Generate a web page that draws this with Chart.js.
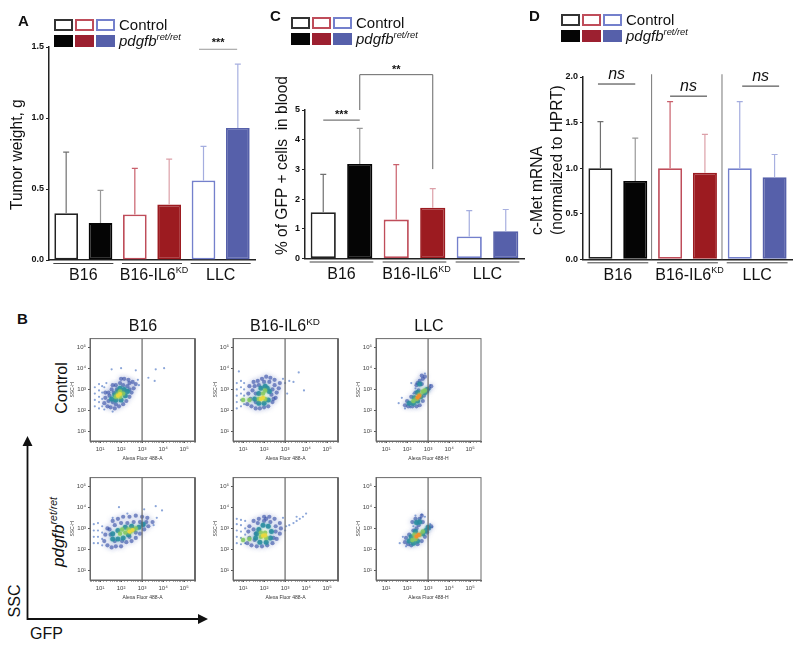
<!DOCTYPE html>
<html>
<head>
<meta charset="utf-8">
<script src="https://cdn.jsdelivr.net/npm/chart.js@4"></script>
<style>
  html, body { margin: 0; background: #fff; }
  #page { position: relative; width: 800px; height: 648px; overflow: hidden; font-family: "Liberation Sans", Arial, sans-serif; color: #111; }
  #page canvas { position: absolute; }
  .txt { position: absolute; white-space: nowrap; line-height: 1; }
  .letter { font-weight: bold; font-size: 15px; }
  .head { font-size: 16px; transform: translateX(-50%); }
  .rot { font-size: 16px; transform: translate(-50%, -50%) rotate(-90deg); }
  .box { position: absolute; box-sizing: border-box; width: 19px; height: 12px; border: 2px solid; }
  sup { font-size: 62%; line-height: 0; }
</style>
</head>
<body>
<div id="page"></div>
<script>
// bar panels
const categories = ["B16 Control", "B16 pdgfb", "IL6KD Control", "IL6KD pdgfb", "LLC Control", "LLC pdgfb"];
const tumorWeight = [0.33, 0.26, 0.32, 0.39, 0.56, 0.93];
const tumorWeightTop = [0.76, 0.49, 0.645, 0.71, 0.80, 1.38];
const gfpBlood = [1.56, 3.18, 1.31, 1.71, 0.74, 0.92];
const gfpBloodTop = [2.83, 4.38, 3.16, 2.35, 1.61, 1.65];
const cMet = [1.0, 0.86, 1.0, 0.95, 1.0, 0.90];
const cMetTop = [1.51, 1.33, 1.73, 1.37, 1.73, 1.15];

const fills = ["#fff", "#050505", "#fff", "#9c1b20", "#fff", "#5660aa"];
const outlines = ["#222", "#050505", "#bf4d5a", "#9c1b20", "#7480cc", "#5660aa"];
const whiskers = ["#707070", "#999", "#c9606c", "#dca0a8", "#a4addf", "#a8b0e0"];

// flow cytometry panels, [log10 GFP, log10 SSC]
const b16CtrlSparse = [[0.75,2.2],[0.75,2.5],[0.75,2.8],[0.75,3.1],[0.95,2.1],[0.95,2.4],[0.95,2.65],[0.95,2.95],[0.95,3.25],[1.1,2.2],[1.1,2.55],[1.1,2.85],[1.1,3.15],[1.55,3.95],[2.0,4.0],[2.7,3.9],[3.3,3.55],[3.6,3.4],[4.05,4.0],[3.65,3.95],[1.2,3.1],[1.3,3.3],[2.8,3.45],[2.85,3.2],[1.2,2.05],[1.6,1.95]];
const b16CtrlBlue = [[1.2,2.35],[1.35,2.2],[1.5,2.15],[1.7,2.1],[1.9,2.2],[2.1,2.3],[1.25,2.6],[1.4,2.45],[1.25,2.85],[1.4,2.85],[1.55,3.0],[1.45,2.7],[1.6,2.4],[1.75,2.3],[2.25,2.45],[2.4,2.65],[2.5,2.85],[2.6,3.05],[2.7,3.25],[2.55,3.35],[2.35,3.45],[2.15,3.5],[1.95,3.3],[1.75,3.2],[1.6,3.2],[2.0,3.5],[2.3,3.15],[2.4,3.0],[1.8,3.0],[1.65,2.85],[2.1,3.2],[2.4,3.3]];
const b16CtrlTeal = [[1.55,2.55],[1.75,2.5],[2.0,2.5],[2.2,2.7],[2.3,2.9],[2.15,3.0],[1.95,3.05],[1.7,2.75],[1.85,2.9],[2.05,2.85]];
const b16CtrlGreen = [[1.75,2.65],[1.95,2.65],[2.1,2.8],[1.95,2.9],[1.85,2.75]];
const b16CtrlHot = [[1.85,2.7],[1.95,2.78]];

const il6CtrlSparse = [[0.7,2.1],[0.7,2.4],[0.7,2.7],[0.7,3.0],[0.7,3.3],[0.9,2.2],[0.9,2.5],[0.9,2.8],[0.9,3.1],[0.9,3.4],[1.05,2.3],[1.05,2.7],[1.05,3.0],[1.05,3.3],[0.8,3.85],[3.0,3.3],[3.2,3.4],[3.4,3.35],[3.1,2.8],[3.9,2.95],[3.65,3.8],[2.9,3.5]];
const il6CtrlBlue = [[1.2,2.3],[1.4,2.2],[1.6,2.1],[1.8,2.1],[2.0,2.15],[2.2,2.2],[2.4,2.4],[2.55,2.6],[2.6,2.85],[2.7,3.05],[2.75,3.3],[2.5,3.45],[2.3,3.55],[2.1,3.6],[1.9,3.5],[1.7,3.4],[1.5,3.35],[1.3,3.15],[1.45,2.95],[1.25,2.8],[1.35,2.55],[1.55,3.15],[1.75,3.2],[2.0,3.35],[2.25,3.35],[2.5,3.2],[2.4,3.0],[2.35,2.75],[1.6,2.8],[1.6,2.4],[2.45,2.55]];
const il6CtrlTeal = [[1.55,2.55],[1.75,2.35],[2.0,2.35],[2.2,2.5],[2.25,2.9],[2.05,3.15],[1.85,3.05],[1.75,2.8],[2.15,3.05]];
const il6CtrlGreen = [[1.0,2.5],[1.3,2.5],[1.75,2.55],[2.05,2.55],[1.95,2.8],[2.05,2.95]];
const il6CtrlHot = [[1.85,2.55],[1.95,2.6]];

const llcCtrlSparse = [[1.6,2.35],[1.75,2.6],[1.9,2.1],[2.15,2.15],[2.4,3.05],[2.2,3.3],[2.85,3.75],[3.1,3.2],[3.05,3.0],[2.3,2.8]];
const llcCtrlBlue = [[1.9,2.25],[2.05,2.2],[2.25,2.2],[2.0,2.45],[2.2,2.65],[2.4,2.85],[2.55,2.95],[2.75,2.45],[2.8,2.7],[2.95,2.9],[3.05,3.05],[3.15,3.15],[2.45,3.2],[2.6,3.4],[2.5,3.3],[2.7,3.25],[2.75,3.5],[2.85,3.6],[2.7,3.65],[2.45,2.2],[2.6,2.25]];
const llcCtrlTeal = [[2.1,2.35],[2.3,2.35],[2.5,2.45],[2.65,2.65],[2.85,2.85],[2.95,3.0],[2.6,3.25],[2.35,2.6],[2.5,2.85]];
const llcCtrlGreen = [[2.3,2.45],[2.45,2.55],[2.6,2.75],[2.75,2.9],[2.85,2.95]];
const llcCtrlHot = [[2.5,2.62],[2.58,2.7]];

const b16RetSparse = [[0.7,2.3],[0.7,2.6],[0.7,2.9],[0.7,3.2],[0.9,2.3],[0.9,2.6],[0.9,2.9],[0.9,3.25],[1.1,2.2],[1.1,2.5],[1.1,2.8],[1.1,3.1],[1.9,4.0],[2.3,3.7],[3.1,3.9],[3.65,4.05],[3.95,3.85],[3.7,3.5],[3.55,3.15],[1.6,3.5]];
const b16RetBlue = [[1.2,2.4],[1.35,2.2],[1.55,2.1],[1.75,2.15],[2.0,2.15],[2.25,2.35],[2.5,2.4],[2.7,2.55],[2.9,2.75],[3.1,2.95],[3.3,3.1],[3.5,3.3],[3.25,3.5],[3.0,3.55],[2.7,3.6],[2.4,3.55],[2.1,3.55],[1.85,3.45],[1.6,3.35],[1.35,3.0],[1.25,2.7],[1.5,2.7],[1.45,2.95],[1.7,3.15],[2.0,3.25],[2.3,3.25],[2.6,3.3],[2.9,3.3],[3.2,3.3],[1.7,2.4],[2.05,2.4],[2.4,2.6],[2.7,2.8],[3.05,3.15]];
const b16RetTeal = [[1.6,2.5],[1.85,2.5],[2.1,2.55],[2.35,2.7],[2.6,2.95],[2.85,3.05],[3.05,3.2],[2.5,3.1],[2.2,3.05],[1.85,2.9],[1.6,2.75]];
const b16RetGreen = [[1.95,2.75],[2.2,2.8],[2.45,2.85],[2.7,3.0],[2.35,2.95],[2.05,2.95]];
const b16RetHot = [[2.4,2.85],[2.55,2.92]];

const il6RetSparse = [[0.7,2.3],[0.7,2.6],[0.7,2.9],[0.7,3.2],[0.7,3.45],[0.9,2.25],[0.9,2.55],[0.9,2.85],[0.9,3.15],[0.9,3.4],[1.1,2.3],[1.1,2.7],[1.1,3.0],[1.1,3.35],[3.05,3.1],[3.2,3.15],[3.4,3.25],[3.55,3.35],[3.7,3.45],[3.85,3.55],[4.0,3.7],[3.55,3.55],[2.9,3.5],[3.0,2.9]];
const il6RetBlue = [[1.2,2.3],[1.4,2.2],[1.65,2.15],[1.9,2.15],[2.15,2.2],[2.4,2.3],[2.6,2.5],[2.75,2.75],[2.8,3.0],[2.75,3.25],[2.5,3.45],[2.25,3.55],[2.0,3.55],[1.75,3.45],[1.5,3.35],[1.3,3.1],[1.25,2.85],[1.3,2.55],[1.5,2.95],[1.7,3.25],[2.0,3.35],[2.3,3.3],[2.55,3.1],[2.55,2.85],[2.45,2.55],[1.55,2.45],[1.6,2.75],[2.1,3.45]];
const il6RetTeal = [[1.6,2.55],[1.8,2.35],[2.1,2.35],[2.3,2.55],[2.35,2.85],[2.2,3.1],[1.95,3.15],[1.75,2.95],[1.65,2.75]];
const il6RetGreen = [[1.0,2.45],[1.3,2.5],[1.85,2.6],[2.1,2.55],[2.05,2.8],[1.85,2.8]];
const il6RetHot = [[1.95,2.65],[2.05,2.68]];

const llcRetSparse = [[1.65,2.3],[1.8,2.6],[1.95,2.15],[2.7,3.65],[2.4,3.6],[2.65,3.5],[3.1,3.2],[3.2,3.05],[2.85,3.55],[2.3,3.1]];
const llcRetBlue = [[1.9,2.35],[2.05,2.25],[2.2,2.2],[1.95,2.55],[2.1,2.7],[2.3,2.9],[2.45,3.0],[2.7,2.4],[2.85,2.6],[2.95,2.8],[3.05,3.0],[3.15,3.1],[2.25,3.3],[2.4,3.45],[2.6,3.45],[2.75,3.3],[2.55,3.15],[2.7,3.6],[2.5,2.25]];
const llcRetTeal = [[2.1,2.4],[2.3,2.3],[2.5,2.4],[2.2,2.6],[2.75,2.75],[2.9,2.9],[3.0,3.05],[2.45,3.28],[2.6,3.3],[2.4,2.85]];
const llcRetGreen = [[2.25,2.45],[2.4,2.5],[2.6,2.7],[2.75,2.85],[2.35,2.7]];
const llcRetHot = [[2.45,2.62],[2.55,2.7]];

const page = document.getElementById("page");

function addCanvas(left, top, width, height) {
    const c = document.createElement("canvas");
    c.width = width;
    c.height = height;
    c.style.left = left + "px";
    c.style.top = top + "px";
    page.appendChild(c);
    return c;
}

function addText(html, left, top, cls, extra) {
    const d = document.createElement("div");
    d.className = "txt " + (cls || "");
    d.style.left = left + "px";
    d.style.top = top + "px";
    if (extra) d.style.cssText += extra;
    d.innerHTML = html;
    page.appendChild(d);
}

function addLegend(x, y) {
    const offs = [0, 21, 42];
    const outline = ["#333", "#bf4d5a", "#7480cc"];
    const solid = ["#050505", "#9c2030", "#5660aa"];
    offs.forEach((o, i) => {
        [0, 16].forEach((dy, row) => {
            const b = document.createElement("div");
            b.className = "box";
            b.style.left = x + o + "px";
            b.style.top = y + dy + "px";
            b.style.borderColor = row ? solid[i] : outline[i];
            b.style.background = row ? solid[i] : "#fff";
            page.appendChild(b);
        });
    });
    addText("Control", x + 65, y - 2, "", "font-size:15px");
    addText("<i>pdgfb<sup>ret/ret</sup></i>", x + 65, y + 14, "", "font-size:15px");
}

const groupSpans = [[0, 1, "B16", ""], [2, 3, "B16-IL6", "KD"], [4, 5, "LLC", ""]];

function panelPlugin(cfg) {
    return {
        id: "panel",
        afterDatasetsDraw(chart) {
            const ctx = chart.ctx, xs = chart.scales.x, ys = chart.scales.y;
            const bars = chart.getDatasetMeta(0).data;
            ctx.save();
            // error bars, top whisker only
            cfg.tops.forEach((top, i) => {
                const x = bars[i].x, y0 = ys.getPixelForValue(cfg.values[i]), y1 = ys.getPixelForValue(top);
                ctx.strokeStyle = whiskers[i];
                ctx.lineWidth = 1.2;
                ctx.beginPath();
                ctx.moveTo(x, y0);
                ctx.lineTo(x, y1);
                ctx.moveTo(x - 3, y1);
                ctx.lineTo(x + 3, y1);
                ctx.stroke();
            });
            // group rules and names under the axis
            const base = chart.chartArea.bottom;
            groupSpans.forEach(g => {
                const a = bars[g[0]], b = bars[g[1]];
                const l = a.x - a.width / 2 - 1, r = b.x + b.width / 2 + 1;
                ctx.strokeStyle = "#444";
                ctx.lineWidth = 1;
                ctx.beginPath();
                ctx.moveTo(l, base + 3.5);
                ctx.lineTo(r, base + 3.5);
                ctx.stroke();
                ctx.fillStyle = "#111";
                ctx.textBaseline = "middle";
                ctx.textAlign = "left";
                ctx.font = "16px 'Liberation Sans'";
                const w1 = ctx.measureText(g[2]).width;
                ctx.font = "9px 'Liberation Sans'";
                const w2 = g[3] ? ctx.measureText(g[3]).width : 0;
                const sx = (l + r) / 2 - (w1 + w2) / 2 + (g[3] ? 2 : 0);
                ctx.font = "16px 'Liberation Sans'";
                ctx.fillText(g[2], sx, base + 16);
                if (g[3]) {
                    ctx.font = "9px 'Liberation Sans'";
                    ctx.fillText(g[3], sx + w1, base + 11);
                }
            });
            // significance lines
            (cfg.sig || []).forEach(s => {
                const l = xs.getPixelForValue(s.from), r = xs.getPixelForValue(s.to), y = ys.getPixelForValue(s.value);
                ctx.strokeStyle = s.color;
                ctx.lineWidth = 1;
                ctx.beginPath();
                ctx.moveTo(l, y);
                ctx.lineTo(r, y);
                ctx.stroke();
                ctx.fillStyle = "#111";
                ctx.textAlign = "center";
                ctx.textBaseline = "middle";
                ctx.font = s.font;
                ctx.fillText(s.text, (l + r) / 2 + (s.shift || 0), y - s.lift);
            });
            if (cfg.bracket) {
                const k = cfg.bracket;
                const l = xs.getPixelForValue(k.from), r = xs.getPixelForValue(k.to);
                ctx.strokeStyle = "#666";
                ctx.lineWidth = 1;
                ctx.beginPath();
                ctx.moveTo(l, ys.getPixelForValue(k.leftEnd));
                ctx.lineTo(l, ys.getPixelForValue(k.value));
                ctx.lineTo(r, ys.getPixelForValue(k.value));
                ctx.lineTo(r, ys.getPixelForValue(k.rightEnd));
                ctx.stroke();
                ctx.fillStyle = "#111";
                ctx.textAlign = "center";
                ctx.textBaseline = "middle";
                ctx.font = "bold 11px 'Liberation Sans'";
                ctx.fillText(k.text, (l + r) / 2, ys.getPixelForValue(k.value) - 5);
            }
            (cfg.dividers || []).forEach(d => {
                const x = xs.getPixelForValue(d);
                ctx.strokeStyle = "#777";
                ctx.lineWidth = 1;
                ctx.beginPath();
                ctx.moveTo(x, ys.getPixelForValue(cfg.dividerTop));
                ctx.lineTo(x, ys.getPixelForValue(0));
                ctx.stroke();
            });
            // y title, 16px squeezed a little to the reference length
            ctx.fillStyle = "#111";
            ctx.textBaseline = "middle";
            ctx.textAlign = "left";
            ctx.font = "16px 'Liberation Sans'";
            cfg.yTitle.forEach(t => {
                ctx.save();
                ctx.translate(t.x, t.y);
                ctx.rotate(-Math.PI / 2);
                ctx.scale(0.97, 1);
                ctx.fillText(t.text, 0, 0);
                ctx.restore();
            });
            ctx.restore();
        }
    };
}

function barChart(box, cfg) {
    const c = addCanvas(box.left, box.top, box.width, box.height);
    return new Chart(c, {
        type: "bar",
        data: {
            labels: categories,
            datasets: [{
                data: cfg.values,
                backgroundColor: fills,
                borderColor: outlines,
                borderWidth: 1.8,
                borderSkipped: false,
                barPercentage: 0.69,
                categoryPercentage: 1,
            }],
        },
        options: {
            responsive: false,
            animation: false,
            layout: { padding: { top: box.plotTop, right: box.plotRight, left: 0, bottom: 0 } },
            plugins: { legend: { display: false }, tooltip: { enabled: false } },
            scales: {
                x: {
                    afterFit: s => { s.height = box.below; },
                    ticks: { display: false },
                    grid: { display: false },
                    border: { color: "#222", width: 1.5 },
                },
                y: {
                    min: 0,
                    max: cfg.max,
                    afterFit: s => { s.width = box.axisX; },
                    ticks: {
                        stepSize: cfg.step,
                        padding: 2,
                        color: "#111",
                        font: { family: "Liberation Sans", size: 9, weight: "bold" },
                        callback: v => cfg.step < 1 ? v.toFixed(1) : String(v),
                    },
                    grid: { drawOnChartArea: false, tickLength: 3, tickColor: "#222", tickWidth: 1.2 },
                    border: { color: "#222", width: 1.5 },
                },
            },
        },
        plugins: [panelPlugin(cfg)],
    });
}

barChart({ left: 0, top: 0, width: 265, height: 300, plotTop: 47, plotRight: 10, below: 40, axisX: 49 }, {
    values: tumorWeight, tops: tumorWeightTop, max: 1.5, step: 0.5,
    sig: [{ from: 3.87, to: 4.98, value: 1.484, color: "#999", text: "***", font: "bold 11px 'Liberation Sans'", lift: 6 }],
    yTitle: [{ text: "Tumor weight, g", x: 18, y: 210 }],
});
barChart({ left: 265, top: 0, width: 265, height: 300, plotTop: 110, plotRight: 6, below: 41.5, axisX: 40 }, {
    values: gfpBlood, tops: gfpBloodTop, max: 5, step: 1,
    sig: [{ from: 0, to: 1, value: 4.66, color: "#555", text: "***", font: "bold 11px 'Liberation Sans'", lift: 5 }],
    bracket: { from: 1, to: 3, value: 6.19, leftEnd: 5.0, rightEnd: 3.01, text: "**" },
    yTitle: [{ text: "% of GFP + cells  in blood", x: 18, y: 255 }],
});
barChart({ left: 530, top: 0, width: 270, height: 300, plotTop: 77, plotRight: 8, below: 40.7, axisX: 53 }, {
    values: cMet, tops: cMetTop, max: 2, step: 0.5,
    sig: [
        { from: -0.07, to: 1.0, value: 1.923, color: "#333", text: "ns", font: "italic 16px 'Liberation Sans'", lift: 9 },
        { from: 2.0, to: 3.06, value: 1.79, color: "#333", text: "ns", font: "italic 16px 'Liberation Sans'", lift: 10 },
        { from: 4.07, to: 5.13, value: 1.90, color: "#333", text: "ns", font: "italic 16px 'Liberation Sans'", lift: 10 },
    ],
    dividers: [1.47, 3.49], dividerTop: 2.03,
    yTitle: [{ text: "c-Met mRNA", x: 8, y: 235 }, { text: "(normalized to HPRT)", x: 28, y: 235 }],
});

addLegend(54, 19);
addLegend(291, 17);
addLegend(561, 14);
addText("A", 18, 13, "letter");
addText("C", 270, 8, "letter");
addText("D", 529, 8, "letter");
addText("B", 17, 311, "letter");

const tickPow = v => {
    const e = Math.log10(v);
    if (Math.abs(e - Math.round(e)) > 1e-6) return "";
    return "10" + "⁰¹²³⁴⁵"[Math.round(e)];
};

const isDecade = v => Math.abs(Math.log10(v) - Math.round(Math.log10(v))) < 1e-6;

const frameLine = right => ({
    id: "frame",
    beforeDatasetDraw(chart, args) {
        // soft halo so the dots read as a density cloud
        const ds = chart.data.datasets[args.index];
        if (ds.halo) {
            chart.ctx.save();
            chart.ctx.shadowColor = ds.halo;
            chart.ctx.shadowBlur = ds.blur;
        }
    },
    afterDatasetDraw(chart, args) {
        if (chart.data.datasets[args.index].halo) chart.ctx.restore();
    },
    afterDatasetsDraw(chart) {
        const a = chart.chartArea, ctx = chart.ctx;
        ctx.save();
        ctx.strokeStyle = "#6a6a6a";
        ctx.lineWidth = 1;
        ctx.strokeRect(a.left, a.top, a.width, a.height);
        if (right) {
            ctx.lineWidth = 2;
            ctx.beginPath();
            ctx.moveTo(a.right, a.top);
            ctx.lineTo(a.right, a.bottom);
            ctx.stroke();
        }
        ctx.restore();
    }
});

const toPts = pts => pts.map(p => ({ x: 10 ** p[0], y: 10 ** p[1] }));

function flowPlot(left, top, layers, xTitle, hot, thickRight) {
    const c = addCanvas(left - 20, top - 4, 129, 130);
    const ymin = 10 ** 0.56, ymax = 10 ** 5.4;
    const dots = (pts, color, r, halo, blur) => ({ data: toPts(pts), backgroundColor: color, borderWidth: 0, pointRadius: r, showLine: false, halo, blur });
    return new Chart(c, {
        type: "scatter",
        data: {
            datasets: [
                { data: [{ x: 1000, y: ymin }, { x: 1000, y: ymax }], showLine: true, borderColor: "#666", borderWidth: 1.2, pointRadius: 0 },
                dots(layers.hot, hot, 2, hot, 3),
                dots(layers.green, "rgba(130,200,100,0.85)", 2.2, "rgba(130,200,100,0.9)", 3),
                dots(layers.teal, "rgba(40,140,160,0.85)", 2.5, "rgba(40,140,160,0.9)", 3),
                dots(layers.blue, "rgba(50,75,165,0.6)", 2.1, "rgba(70,95,180,0.75)", 5),
                dots(layers.sparse, "rgba(120,150,210,0.85)", 1.1),
            ],
        },
        options: {
            responsive: false,
            animation: false,
            layout: { padding: { top: 4, right: 4, left: 0, bottom: 0 } },
            plugins: { legend: { display: false }, tooltip: { enabled: false } },
            scales: {
                x: {
                    type: "logarithmic",
                    bounds: "data",
                    min: 10 ** 0.52,
                    max: 10 ** 5.52,
                    afterFit: s => { s.height = 22; },
                    title: { display: true, text: xTitle, color: "#333", font: { family: "Liberation Sans", size: 5 }, padding: 1 },
                    ticks: { autoSkip: false, maxRotation: 0, minRotation: 0, padding: 3, color: "#444", font: { family: "Liberation Sans", size: 6 }, callback: tickPow },
                    grid: { drawOnChartArea: false, tickLength: 2, tickColor: t => isDecade(t.tick.value) ? "#555" : "#aaa" },
                    border: { color: "#666" },
                },
                y: {
                    type: "logarithmic",
                    bounds: "data",
                    min: ymin,
                    max: ymax,
                    afterFit: s => { s.width = 20; },
                    title: { display: true, text: "SSC-H", color: "#333", font: { family: "Liberation Sans", size: 5 }, padding: 0 },
                    ticks: { autoSkip: false, padding: 2, color: "#444", font: { family: "Liberation Sans", size: 6 }, callback: tickPow },
                    grid: { drawOnChartArea: false, tickLength: 2, tickColor: t => isDecade(t.tick.value) ? "#555" : "rgba(0,0,0,0)" },
                    border: { color: "#666" },
                },
            },
        },
        plugins: [frameLine(thickRight)],
    });
}

const yellowHot = "#e8d840", orangeHot = "#f09030";
flowPlot(90, 337, { sparse: b16CtrlSparse, blue: b16CtrlBlue, teal: b16CtrlTeal, green: b16CtrlGreen, hot: b16CtrlHot }, "Alexa Fluor 488-A", yellowHot, true);
flowPlot(233, 337, { sparse: il6CtrlSparse, blue: il6CtrlBlue, teal: il6CtrlTeal, green: il6CtrlGreen, hot: il6CtrlHot }, "Alexa Fluor 488-A", yellowHot, true);
flowPlot(376, 337, { sparse: llcCtrlSparse, blue: llcCtrlBlue, teal: llcCtrlTeal, green: llcCtrlGreen, hot: llcCtrlHot }, "Alexa Fluor 488-H", orangeHot, false);
flowPlot(90, 476, { sparse: b16RetSparse, blue: b16RetBlue, teal: b16RetTeal, green: b16RetGreen, hot: b16RetHot }, "Alexa Fluor 488-A", yellowHot, true);
flowPlot(233, 476, { sparse: il6RetSparse, blue: il6RetBlue, teal: il6RetTeal, green: il6RetGreen, hot: il6RetHot }, "Alexa Fluor 488-A", yellowHot, true);
flowPlot(376, 476, { sparse: llcRetSparse, blue: llcRetBlue, teal: llcRetTeal, green: llcRetGreen, hot: llcRetHot }, "Alexa Fluor 488-H", orangeHot, false);

addText("B16", 143, 318, "head");
addText("B16-IL6<sup>KD</sup>", 285, 318, "head");
addText("LLC", 429, 318, "head");
addText("Control", 62, 388, "rot");
addText("<i>pdgfb<sup>ret/ret</sup></i>", 58, 532, "rot", "font-size:17px");
addText("SSC", 15, 601, "rot");
addText("GFP", 30, 626, "", "font-size:16px");

// SSC / GFP arrows
page.insertAdjacentHTML("beforeend",
    '<svg width="800" height="648" style="position:absolute;left:0;top:0;pointer-events:none">' +
    '<path d="M27.5 444V619H200" fill="none" stroke="#111" stroke-width="1.8"/>' +
    '<path d="M27.5 436l-5 10h10zM208 619l-10-5v10z" fill="#111"/></svg>');
</script>
</body>
</html>
